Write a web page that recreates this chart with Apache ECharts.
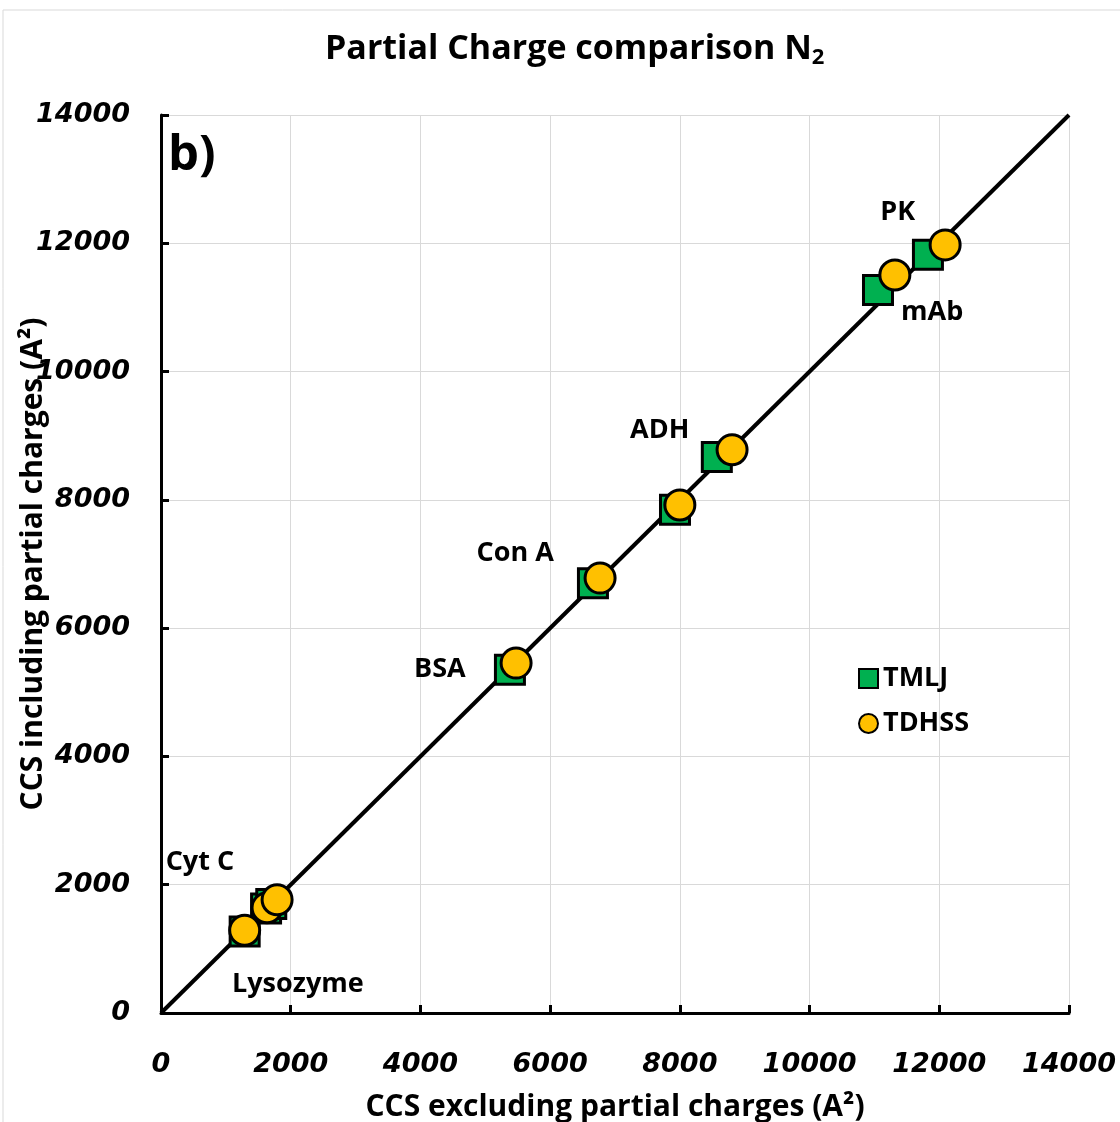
<!DOCTYPE html>
<html><head><meta charset="utf-8">
<script src="https://cdn.jsdelivr.net/npm/echarts@6/dist/echarts.min.js"></script>
<style>html,body{margin:0;padding:0;background:#fff}#c{width:1120px;height:1122px}</style>
</head><body><div id="c"></div>
<script>
const tmljX = [1290, 1620, 1700, 5380, 6660, 7925, 8570, 11055, 11825];
const tmljY = [1270, 1630, 1700, 5350, 6700, 7845, 8670, 11270, 11820];
const tdhssX = [1290, 1635, 1790, 5475, 6770, 8000, 8805, 11315, 12090];
const tdhssY = [1290, 1640, 1765, 5455, 6780, 7920, 8780, 11505, 11975];
const labelNames = ['Cyt C', 'Lysozyme', 'BSA', 'Con A', 'ADH', 'PK', 'mAb'];
const labelX = [600, 2110, 4300, 5460, 7690, 11360, 11890];
const labelY = [2350, 450, 5360, 7170, 9090, 12490, 10930];
const tickValues = [0, 2000, 4000, 6000, 8000, 10000, 12000, 14000];

const FONT = 'Open Sans';
const TICKFONT = 'DejaVu Sans';
const chart = echarts.init(document.getElementById('c'));
const pts = (xs, ys) => xs.map((x, i) => [x, ys[i]]);
const axisCommon = {
  min: tickValues[0], max: tickValues[tickValues.length - 1], interval: tickValues[1] - tickValues[0],
  axisLine: {show: true, onZero: false, lineStyle: {color: '#000', width: 3}},
  axisTick: {show: true, inside: true, length: 8, lineStyle: {color: '#000', width: 3}},
  splitLine: {show: true, lineStyle: {color: '#d9d9d9', width: 1}},
  axisLabel: {fontFamily: TICKFONT, fontWeight: 'bold', fontStyle: 'italic', fontSize: 27, color: '#000',
              formatter: v => String(v)},
  nameLocation: 'middle',
  nameMoveOverlap: false,
  nameTextStyle: {fontFamily: FONT, fontWeight: 'bold', fontSize: 30, color: '#000', lineHeight: 32}
};
chart.setOption({
  animation: false,
  backgroundColor: '#fff',
  title: {
    text: '{a|Partial Charge comparison N}{s|2}',
    left: 320, top: 24,
    textStyle: {rich: {
      a: {fontFamily: FONT, fontWeight: 'bold', fontSize: 34, color: '#000'},
      s: {fontFamily: FONT, fontWeight: 'bold', fontSize: 22, color: '#000', verticalAlign: 'bottom', padding: [18, 0, 0, 0]}
    }}
  },
  grid: {left: 161, right: 51, top: 115, bottom: 109, outerBoundsMode: 'none', containLabel: false},
  xAxis: Object.assign({}, axisCommon, {
    type: 'value', name: 'CCS excluding partial charges (A²)', nameGap: 78,
    axisLabel: Object.assign({}, axisCommon.axisLabel, {margin: 38})
  }),
  yAxis: Object.assign({}, axisCommon, {
    type: 'value', name: 'CCS including partial charges (A²)', nameGap: 112,
    axisLabel: Object.assign({}, axisCommon.axisLabel, {margin: 31})
  }),
  legend: {
    orient: 'vertical', left: 853, top: 660, itemGap: 18,
    itemWidth: 19, itemHeight: 19,
    textStyle: {fontFamily: FONT, fontWeight: 'bold', fontSize: 27, color: '#000'},
    data: [{name: 'TMLJ', icon: 'rect'}, {name: 'TDHSS', icon: 'circle'}]
  },
  graphic: [
    {type: 'rect', shape: {x: 3, y: 10, width: 1130, height: 1130}, style: {fill: 'none', stroke: '#d9d9d9', lineWidth: 1}, silent: true},
    {type: 'text', left: 168, top: 132, style: {text: 'b)', fontFamily: FONT, fontWeight: 'bold', fontSize: 49, fill: '#000'}}
  ],
  series: [
    {type: 'line', data: [[0, 0], [14000, 14000]], symbol: 'none', lineStyle: {color: '#000', width: 4}, silent: true, z: 1},
    {name: 'TMLJ', type: 'scatter', symbol: 'rect', symbolSize: 29, data: pts(tmljX, tmljY),
     itemStyle: {color: '#00B050', borderColor: '#000', borderWidth: 3, opacity: 1}, z: 3},
    {name: 'TDHSS', type: 'scatter', symbol: 'circle', symbolSize: 30, data: pts(tdhssX, tdhssY),
     itemStyle: {color: '#FFC000', borderColor: '#000', borderWidth: 3, opacity: 1}, z: 4},
    {type: 'scatter', symbolSize: 0, silent: true, z: 5, itemStyle: {opacity: 1},
     data: labelNames.map((n, i) => ({name: n, value: [labelX[i], labelY[i]]})),
     label: {show: true, position: 'inside', formatter: '{b}', fontFamily: FONT, fontWeight: 'bold', fontSize: 27, color: '#000', opacity: 1}}
  ]
});
</script></body></html>
